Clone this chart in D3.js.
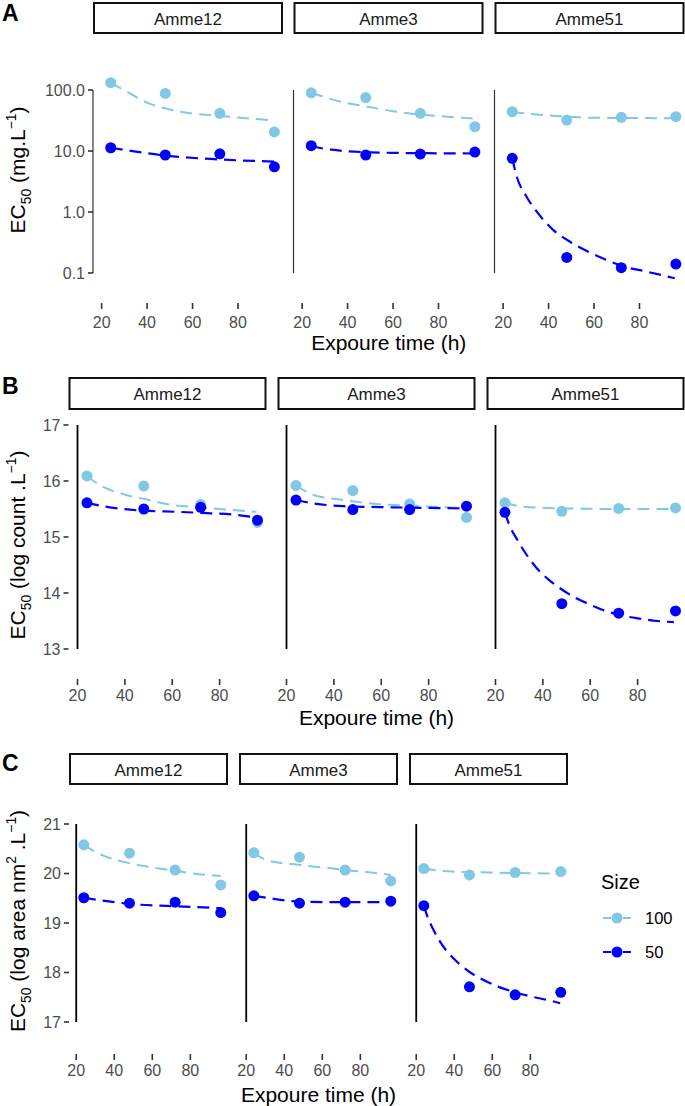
<!DOCTYPE html>
<html><head><meta charset="utf-8">
<script src="https://cdn.jsdelivr.net/npm/d3@7"></script>
<style>
body{margin:0;background:#fff}
svg{display:block}
text{font-family:"Liberation Sans",Arial,Helvetica,sans-serif}
</style>
</head><body><div id="chart"></div>
<script>
// ---------- data ----------
const strains = ["Amme12", "Amme3", "Amme51"];
const sizeLevels = ["100", "50"];
const obsHours = [24, 48, 72, 96];
const timeTicks = [20, 40, 60, 80];

// Panel A: EC50 (mg.L-1), log scale
const massTicks = [0.1, 1, 10, 100];
const massTickLabels = ["0.1", "1.0", "10.0", "100.0"];
const massObs100 = [[132, 88, 41.5, 20.5], [90, 75, 41.5, 25], [44, 32.2, 35.6, 36.5]];
const massObs50 = [[11.3, 8.6, 9.0, 5.5], [12.2, 8.6, 8.9, 9.6], [7.6, 0.18, 0.122, 0.14]];
const massFit100 = [
  [[24,132],[31,94],[40,62],[50,48],[59,41.5],[69,38.5],[81,35.2],[96,31.4]],
  [[24,90],[30,76],[37,64],[48,54],[60,45],[72,39.5],[84,36.5],[96,34]],
  [[24,44],[29,41.5],[43.5,37.5],[58,35.2],[73,34.8],[96,34.4]]
];
const massFit50 = [
  [[24,11.3],[31,10.3],[48,8.4],[71,7.3],[96,6.7]],
  [[24,12.2],[28,11.2],[33,10.5],[40,9.9],[50,9.5],[62,9.3],[75,9.2],[96,9.1]],
  [[24,7.6],[26,3.8],[30.3,1.78],[35.4,0.95],[42,0.51],[49.4,0.326],[57.5,0.223],[65.6,0.163],[74.4,0.124],[83.3,0.105],[95.5,0.082]]
];

// Panel B: EC50 (log count.L-1)
const countTicks = [13, 14, 15, 16, 17];
const countObs100 = [[16.09, 15.91, 15.58, 15.26], [15.92, 15.83, 15.59, 15.35], [15.61, 15.46, 15.51, 15.52]];
const countObs50 = [[15.61, 15.50, 15.53, 15.30], [15.66, 15.49, 15.49, 15.55], [15.44, 13.81, 13.64, 13.68]];
const countFit100 = [
  [[24,16.09],[29.3,15.93],[40.6,15.75],[49.1,15.67],[58.9,15.58],[71.5,15.53],[82.8,15.49],[95.5,15.45]],
  [[24,15.92],[31.5,15.75],[44.2,15.66],[58.3,15.59],[72.4,15.56],[86.4,15.53],[96,15.52]],
  [[24,15.61],[32,15.54],[50,15.51],[72,15.5],[96,15.5]]
];
const countFit50 = [
  [[24,15.61],[33.5,15.53],[47.6,15.47],[61.7,15.45],[72.9,15.43],[85.6,15.40],[95.5,15.35]],
  [[24,15.66],[31.5,15.60],[44,15.55],[65,15.53],[96,15.51]],
  [[24,15.44],[25.6,15.24],[29.2,14.95],[32.7,14.71],[36.9,14.47],[41.8,14.26],[47.4,14.08],[53.1,13.93],[60.1,13.79],[67.2,13.67],[74.2,13.59],[81.2,13.54],[88.3,13.50],[95.3,13.48]]
];

// Panel C: EC50 (log area nm2.L-1)
const areaTicks = [17, 18, 19, 20, 21];
const areaObs100 = [[20.58, 20.41, 20.07, 19.77], [20.42, 20.33, 20.07, 19.85], [20.10, 19.97, 20.02, 20.04]];
const areaObs50 = [[19.51, 19.40, 19.42, 19.21], [19.55, 19.40, 19.42, 19.44], [19.35, 17.71, 17.55, 17.60]];
const areaFit100 = [
  [[24,20.58],[32.5,20.39],[41.3,20.27],[50,20.19],[60.5,20.12],[71.1,20.06],[81.6,20.0],[96,19.95]],
  [[24,20.42],[30.8,20.27],[48.3,20.17],[65.8,20.10],[72,20.07],[90.3,20.0],[96,19.97]],
  [[24,20.10],[34,20.05],[58,20.02],[96,20.0]]
];
const areaFit50 = [
  [[24,19.51],[32.5,19.46],[50,19.38],[71,19.34],[96,19.30]],
  [[24,19.55],[30.8,19.51],[48.3,19.43],[70,19.42],[96,19.42]],
  [[24,19.35],[25.6,19.16],[29.1,18.86],[32.6,18.62],[37,18.39],[42.2,18.19],[48.4,18.0],[55.4,17.85],[63.3,17.71],[72.1,17.60],[80.8,17.51],[89.6,17.44],[95.7,17.38]]
];

// ---------- layout ----------
const W = 685, H = 1106;
const LIGHT = "#80C8E6", DARK = "#0000FF";
const xDomain = [16.2, 99.8];
const FONT_TICK = 16, FONT_STRIP = 17, FONT_TITLE = 21;

const svg = d3.select("#chart").append("svg").attr("width", W).attr("height", H);

const rows = [
  { letter: "A", letterY: 21, lefts: [93, 293.5, 494.5], width: 190, stripTop: 2, stripBot: 34,
    scale: d3.scaleLog().domain([0.1, 100]).range([273, 90]),
    ticks: massTicks, tickLabels: massTickLabels, lineAtPanelLeft: true, lineW: 1.2, lineC: "#333",
    xTickY: 303, xLabelY: 328, xTitleY: 350, yTitleY: 170,
    title: [{t:"EC"},{t:"50",sub:true},{t:" (mg.L"},{t:"\u22121",sup:true},{t:")"}],
    obs: [massObs100, massObs50], fits: [massFit100, massFit50] },
  { letter: "B", letterY: 394, lefts: [68.5, 277.5, 486.5], width: 198, stripTop: 377, stripBot: 410,
    scale: d3.scaleLinear().domain([13, 17]).range([649, 425]),
    ticks: countTicks, tickLabels: countTicks.map(String), lineAtPanelLeft: false, lineW: 1.8, lineC: "#000",
    xTickY: 679, xLabelY: 701, xTitleY: 725, yTitleY: 545,
    title: [{t:"EC"},{t:"50",sub:true},{t:" (log count .L"},{t:"\u22121",sup:true},{t:")"}],
    obs: [countObs100, countObs50], fits: [countFit100, countFit50] },
  { letter: "C", letterY: 771, lefts: [69, 239, 409], width: 159, stripTop: 753, stripBot: 785,
    scale: d3.scaleLinear().domain([17, 21]).range([1022, 824]),
    ticks: areaTicks, tickLabels: areaTicks.map(String), lineAtPanelLeft: false, lineW: 1.8, lineC: "#000",
    xTickY: 1054, xLabelY: 1076, xTitleY: 1102, yTitleY: 921,
    title: [{t:"EC"},{t:"50",sub:true},{t:" (log area nm"},{t:"2",sup:true},{t:" .L"},{t:"\u22121",sup:true},{t:")"}],
    obs: [areaObs100, areaObs50], fits: [areaFit100, areaFit50] }
];
const seriesColors = [LIGHT, DARK];

function richText(sel, parts, size) {
  let cur = 0;
  parts.forEach(p => {
    let target = p.sub ? size * 0.28 : (p.sup ? -size * 0.42 : 0);
    sel.append("tspan")
      .attr("dy", (target - cur).toFixed(2))
      .attr("font-size", (p.sub || p.sup) ? size * 0.66 : size)
      .text(p.t);
    cur = target;
  });
}

rows.forEach(row => {
  const y = row.scale;
  // panel letter
  svg.append("text").attr("x", 2).attr("y", row.letterY)
    .attr("font-size", 23).attr("font-weight", "bold").attr("fill", "#000").text(row.letter);

  strains.forEach((name, i) => {
    const left = row.lefts[i];
    const x = d3.scaleLinear().domain(xDomain).range([left, left + row.width]);
    const g = svg.append("g");

    // strip
    g.append("rect").attr("x", left + 1).attr("y", row.stripTop + 1)
      .attr("width", row.width - 2).attr("height", row.stripBot - row.stripTop - 2)
      .attr("fill", "#fff").attr("stroke", "#111").attr("stroke-width", 2);
    g.append("text").attr("x", left + row.width / 2).attr("y", (row.stripTop + row.stripBot) / 2 + 1)
      .attr("dy", "0.35em").attr("text-anchor", "middle").attr("font-size", FONT_STRIP)
      .attr("fill", "#1a1a1a").text(name);

    // vertical axis line (capped at first/last break)
    const lx = row.lineAtPanelLeft ? left : x(20);
    const tMin = d3.min(row.ticks), tMax = d3.max(row.ticks);
    g.append("line").attr("x1", lx).attr("x2", lx).attr("y1", y(tMax)).attr("y2", y(tMin))
      .attr("stroke", row.lineC).attr("stroke-width", row.lineW);

    // y ticks only on first panel
    if (i === 0) {
      row.ticks.forEach((t, k) => {
        g.append("line").attr("x1", left - 5).attr("x2", left).attr("y1", y(t)).attr("y2", y(t))
          .attr("stroke", "#333").attr("stroke-width", 1.6);
        g.append("text").attr("x", left - 8).attr("y", y(t)).attr("dy", "0.36em")
          .attr("text-anchor", "end").attr("font-size", FONT_TICK).attr("fill", "#4d4d4d")
          .text(row.tickLabels[k]);
      });
    }

    // x ticks
    timeTicks.forEach(t => {
      g.append("line").attr("x1", x(t)).attr("x2", x(t)).attr("y1", row.xTickY).attr("y2", row.xTickY + 6)
        .attr("stroke", "#333").attr("stroke-width", 1.6);
      g.append("text").attr("x", x(t)).attr("y", row.xLabelY).attr("text-anchor", "middle")
        .attr("font-size", FONT_TICK).attr("fill", "#4d4d4d").text(t);
    });

    // fitted dashed lines
    const line = d3.line().x(d => x(d[0])).y(d => y(d[1])).curve(d3.curveMonotoneX);
    row.fits.forEach((fit, s) => {
      g.append("path").attr("d", line(fit[i])).attr("fill", "none")
        .attr("stroke", seriesColors[s]).attr("stroke-width", s === 0 ? 2 : 2.2)
        .attr("stroke-dasharray", "12,7");
    });
    // observed points
    row.obs.forEach((obs, s) => {
      g.selectAll(null).data(obs[i]).enter().append("circle")
        .attr("cx", (d, k) => x(obsHours[k])).attr("cy", d => y(d))
        .attr("r", 5.5).attr("fill", seriesColors[s]);
    });
  });

  // x title
  const l0 = row.lefts[0], l2 = row.lefts[2] + row.width;
  svg.append("text").attr("x", (l0 + l2) / 2).attr("y", row.xTitleY).attr("text-anchor", "middle")
    .attr("font-size", FONT_TITLE).attr("fill", "#000").text("Expoure time (h)");

  // y title
  const yt = svg.append("text").attr("transform", `translate(25,${row.yTitleY}) rotate(-90)`)
    .attr("text-anchor", "middle").attr("fill", "#000");
  richText(yt, row.title, FONT_TITLE);
});

// ---------- legend ----------
const lg = svg.append("g");
lg.append("text").attr("x", 601).attr("y", 889).attr("font-size", 20).attr("fill", "#000").text("Size");
sizeLevels.forEach((lab, k) => {
  const cy = 918 + k * 34;
  lg.append("line").attr("x1", 603).attr("x2", 631).attr("y1", cy).attr("y2", cy)
    .attr("stroke", seriesColors[k]).attr("stroke-width", 2).attr("stroke-dasharray", "8,12");
  lg.append("circle").attr("cx", 617).attr("cy", cy).attr("r", 5.5).attr("fill", seriesColors[k]);
  lg.append("text").attr("x", 645).attr("y", cy).attr("dy", "0.36em").attr("font-size", 16.5)
    .attr("fill", "#000").text(lab);
});
</script>
</body></html>
